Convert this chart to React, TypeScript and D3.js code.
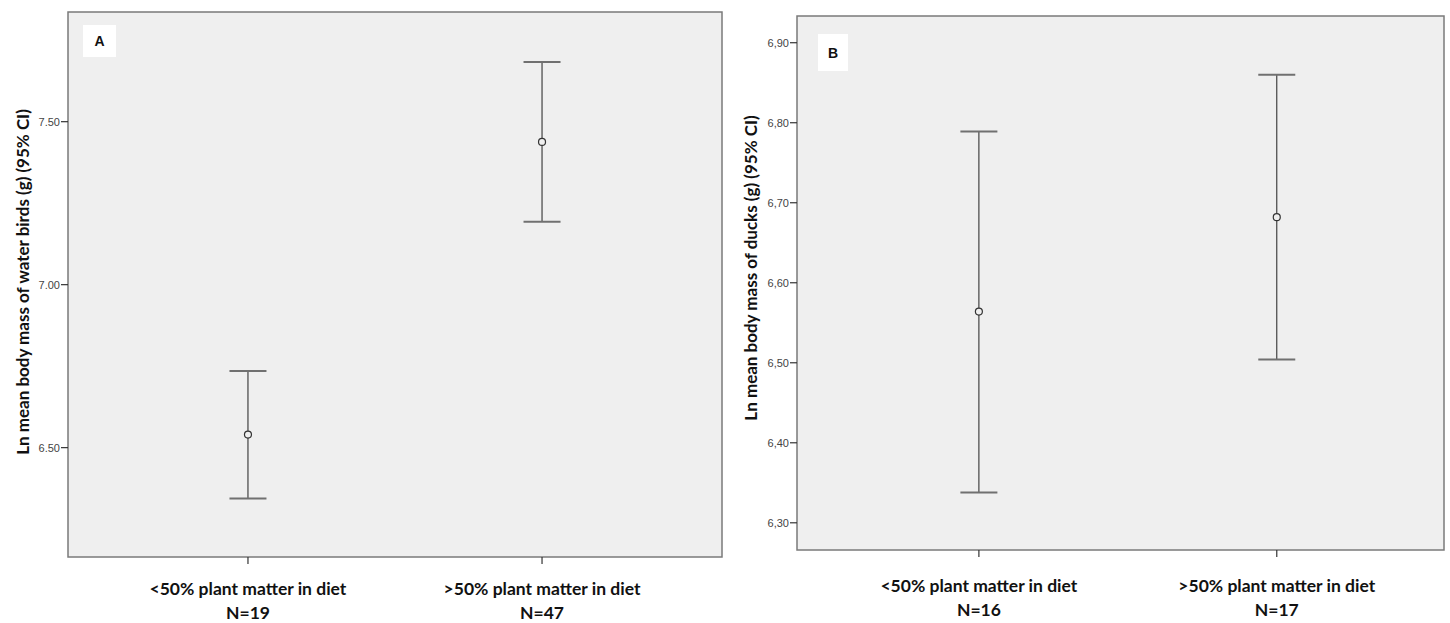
import React from 'react';
import * as d3 from 'd3';

// categories shared by both panels
const groups = ['<50% plant matter in diet', '>50% plant matter in diet'];

// panel A: water birds
const countsA = ['N=19', 'N=47'];
const meanA = [6.54, 7.438];
const lowA = [6.344, 7.193];
const highA = [6.735, 7.683];
const ticksA = [6.5, 7.0, 7.5];

// panel B: ducks
const countsB = ['N=16', 'N=17'];
const meanB = [6.564, 6.682];
const lowB = [6.338, 6.504];
const highB = [6.789, 6.86];
const ticksB = [6.3, 6.4, 6.5, 6.6, 6.7, 6.8, 6.9];

const FONT_LABEL = 'Lato, "Open Sans", sans-serif';
const FONT_TICK = '"Liberation Sans", Arial, sans-serif';

type PanelProps = {
  letter: string;
  left: number;
  right: number;
  top: number;
  bottom: number;
  domain: [number, number];
  ticks: number[];
  fmt: (v: number) => string;
  mean: number[];
  low: number[];
  high: number[];
  counts: string[];
  padding: number;
  align: number;
  yLabel: string;
  yLabelX: number;
  yLabelY: number;
  letterBox: { x: number; y: number; w: number; h: number };
  catY: number;
};

const Panel = (p: PanelProps) => {
  const y = d3.scaleLinear().domain(p.domain).range([p.bottom, p.top]);
  const x = d3.scalePoint<string>()
    .domain(groups)
    .range([p.left, p.right])
    .padding(p.padding)
    .align(p.align);
  const capHalf = 18.5;

  return (
    <g>
      <rect
        x={p.left}
        y={p.top}
        width={p.right - p.left}
        height={p.bottom - p.top}
        fill="#efefef"
        stroke="#7a7a7a"
        strokeWidth={1.5}
      />

      {/* letter box */}
      <rect x={p.letterBox.x} y={p.letterBox.y} width={p.letterBox.w} height={p.letterBox.h} fill="#fff" />
      <text
        x={p.letterBox.x + p.letterBox.w / 2}
        y={p.letterBox.y + p.letterBox.h / 2 + 5}
        textAnchor="middle"
        style={{ fontFamily: FONT_TICK, fontSize: 14, fontWeight: 'bold', fill: '#111' }}
      >
        {p.letter}
      </text>

      {/* y ticks */}
      {p.ticks.map(t => (
        <g key={t} transform={`translate(${p.left}, ${y(t)})`}>
          <line x1={-7} x2={0} stroke="#333" strokeWidth={1.2} />
          <text
            x={-8}
            y={4}
            textAnchor="end"
            style={{ fontFamily: FONT_TICK, fontSize: 11, fill: '#444' }}
          >
            {p.fmt(t)}
          </text>
        </g>
      ))}

      {/* x ticks and labels */}
      {groups.map((g, i) => (
        <g key={g} transform={`translate(${x(g)}, 0)`}>
          <line y1={p.bottom} y2={p.bottom + 7} stroke="#333" strokeWidth={1.2} />
          <text
            y={p.catY}
            textAnchor="middle"
            style={{ fontFamily: FONT_LABEL, fontSize: 17.5, fontWeight: 'bold', fill: '#111' }}
          >
            {g}
          </text>
          <text
            y={p.catY + 24}
            textAnchor="middle"
            style={{ fontFamily: FONT_LABEL, fontSize: 17.5, fontWeight: 'bold', fill: '#111' }}
          >
            {p.counts[i]}
          </text>
        </g>
      ))}

      {/* error bars */}
      {groups.map((g, i) => {
        const cx = x(g) as number;
        return (
          <g key={`bar-${g}`}>
            <line x1={cx} x2={cx} y1={y(p.high[i])} y2={y(p.low[i])} stroke="#333" strokeWidth={1.1} />
            <line x1={cx - capHalf} x2={cx + capHalf} y1={y(p.high[i])} y2={y(p.high[i])} stroke="#707070" strokeWidth={2} />
            <line x1={cx - capHalf} x2={cx + capHalf} y1={y(p.low[i])} y2={y(p.low[i])} stroke="#707070" strokeWidth={2} />
            <circle cx={cx} cy={y(p.mean[i])} r={3.5} fill="#efefef" stroke="#333" strokeWidth={1.2} />
          </g>
        );
      })}

      {/* y axis title */}
      <text
        transform={`translate(${p.yLabelX}, ${p.yLabelY}) rotate(-90)`}
        textAnchor="middle"
        style={{ fontFamily: FONT_LABEL, fontSize: 17, fontWeight: 'bold', fill: '#111' }}
      >
        {p.yLabel}
      </text>
    </g>
  );
};

export default function App() {
  return (
    <svg
      width={1450}
      height={623}
      style={{ position: 'absolute', left: 0, top: 0, background: '#fff' }}
    >
      <Panel
        letter="A"
        left={68}
        right={722}
        top={12}
        bottom={557}
        domain={[6.1645, 7.8365]}
        ticks={ticksA}
        fmt={d3.format('.2f')}
        mean={meanA}
        low={lowA}
        high={highA}
        counts={countsA}
        padding={0.612}
        align={0.5}
        yLabel="Ln mean body mass of water birds (g) (95% CI)"
        yLabelX={29}
        yLabelY={282}
        letterBox={{ x: 83, y: 25, w: 33, h: 32 }}
        catY={595}
      />
      <Panel
        letter="B"
        left={797}
        right={1444}
        top={16}
        bottom={550}
        domain={[6.266, 6.9334]}
        ticks={ticksB}
        fmt={v => d3.format('.2f')(v).replace('.', ',')}
        mean={meanB}
        low={lowB}
        high={highB}
        counts={countsB}
        padding={0.586}
        align={0.521}
        yLabel="Ln mean body mass of ducks (g) (95% CI)"
        yLabelX={757}
        yLabelY={268}
        letterBox={{ x: 818, y: 34, w: 30, h: 37 }}
        catY={592}
      />
    </svg>
  );
}
